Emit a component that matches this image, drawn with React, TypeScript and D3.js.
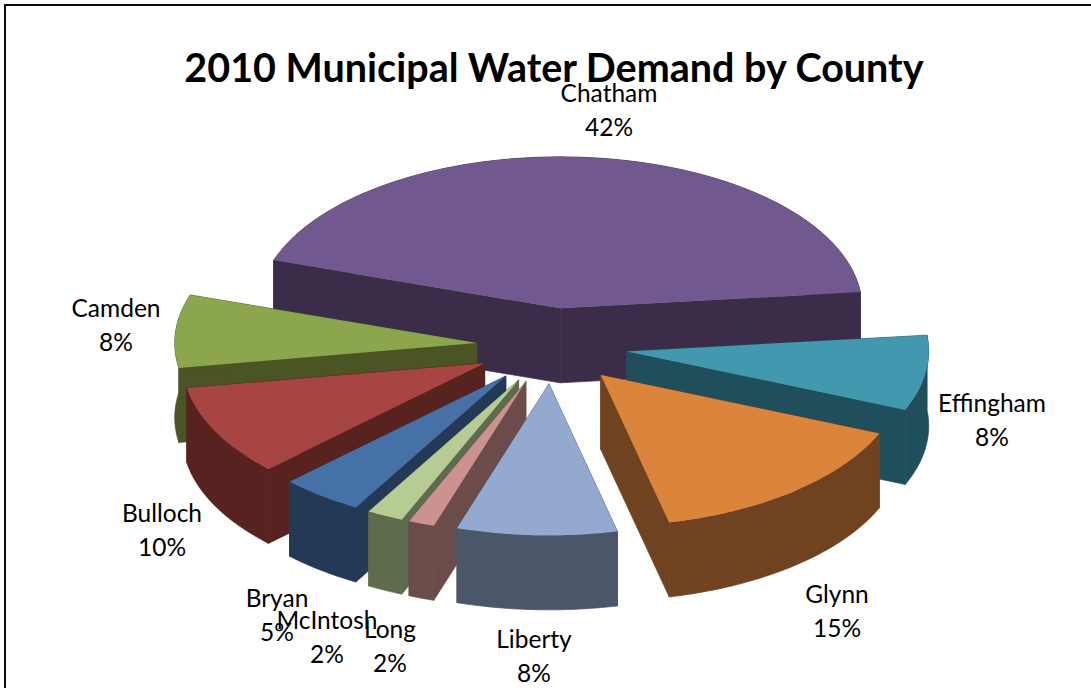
import React from "react";
import * as d3 from "d3";

const WIDTH = 1091;
const HEIGHT = 688;

const title = "2010 Municipal Water Demand by County";
const counties = ["Chatham", "Effingham", "Glynn", "Liberty", "Long", "McIntosh", "Bryan", "Bulloch", "Camden"];
// slice sizes as read from the drawn arcs
const demandShare = [43.3, 8.05, 15.1, 8.6, 1.4, 1.95, 4.45, 9.7, 7.8];
// percentages as printed on the labels
const printedPercent = [42, 8, 15, 8, 2, 2, 5, 10, 8];

const topColors = ["#71598F", "#4298AF", "#DB843B", "#94A9CF", "#CC9290", "#B7CC92", "#4571A6", "#A64541", "#8BA64C"];
const sideColors = ["#3B2C4A", "#214E5B", "#6F431F", "#4B5669", "#6B4C4A", "#5E6B4C", "#243955", "#572220", "#4A5425"];

// layout
const labelCenters: [number, number][] = [
  [609, 92], [992, 402], [837, 593], [534, 638], [390, 628], [327, 619], [277, 597], [162, 512], [116, 307],
];
const LABEL_GAP = 34;
const cx = 552;
const cy = 346;
const rx = 302;
const ry = 151.5;
const depth = 74.5;
const explosion = 0.25;
const startDeg = -71.5;

const toRad = Math.PI / 180;

export default function App() {
  const pie = d3
    .pie<number>()
    .sort(null)
    .value((d) => d)
    .startAngle(startDeg * toRad)
    .endAngle((startDeg + 360) * toRad);
  const arcs = pie(demandShare);

  const line = d3
    .line<[number, number]>()
    .x((d) => d[0])
    .y((d) => d[1]);

  const slices = arcs
    .map((a, i) => {
      const a0 = a.startAngle - Math.PI / 2;
      const a1 = a.endAngle - Math.PI / 2;
      const mid = (a0 + a1) / 2;
      const ox = cx + explosion * rx * Math.cos(mid);
      const oy = cy + explosion * ry * Math.sin(mid);
      const rim = (t: number, dz = 0): [number, number] => [
        ox + rx * Math.cos(t),
        oy + ry * Math.sin(t) + dz,
      ];
      const n = Math.max(8, Math.ceil((a1 - a0) / (toRad * 1)));
      const ts = d3.range(n + 1).map((k) => a0 + ((a1 - a0) * k) / n);
      const top: [number, number][] = [[ox, oy], ...ts.map((t) => rim(t))];
      const wall: [number, number][] = [
        ...ts.map((t) => rim(t)),
        ...ts.slice().reverse().map((t) => rim(t, depth)),
      ];
      const face = (t: number): [number, number][] => [
        [ox, oy],
        rim(t),
        rim(t, depth),
        [ox, oy + depth],
      ];
      return { i, order: Math.sin(mid), top, wall, f0: face(a0), f1: face(a1) };
    })
    .sort((p, q) => d3.ascending(p.order, q.order));

  const font = "Lato, Carlito, Calibri, sans-serif";

  return (
    <svg
      width={WIDTH}
      height={HEIGHT}
      viewBox={`0 0 ${WIDTH} ${HEIGHT}`}
      style={{ position: "absolute", left: 0, top: 0, background: "#fff" }}
    >
      <path d={`M5 ${HEIGHT}V5H${WIDTH}`} fill="none" stroke="#0a0a0a" strokeWidth={2} />
      {slices.map((s) => (
        <g key={counties[s.i]}>
          <g fill={sideColors[s.i]} stroke={sideColors[s.i]} strokeWidth={0.7} strokeLinejoin="round">
            <path d={line(s.f0)! + "Z"} />
            <path d={line(s.f1)! + "Z"} />
            <path d={line(s.wall)! + "Z"} />
          </g>
          <path d={line(s.top)! + "Z"} fill={topColors[s.i]} />
        </g>
      ))}
      <text
        x={554}
        y={82}
        textAnchor="middle"
        fontFamily={font}
        fontWeight={700}
        fontSize={39.5}
        fill="#000"
      >
        {title}
      </text>
      {counties.map((c, i) => (
        <g key={c} fontFamily={font} fontSize={24.5} fill="#000" textAnchor="middle">
          <text x={labelCenters[i][0]} y={labelCenters[i][1]} dominantBaseline="central">
            {c}
          </text>
          <text x={labelCenters[i][0]} y={labelCenters[i][1] + LABEL_GAP} dominantBaseline="central">
            {printedPercent[i]}%
          </text>
        </g>
      ))}
    </svg>
  );
}
